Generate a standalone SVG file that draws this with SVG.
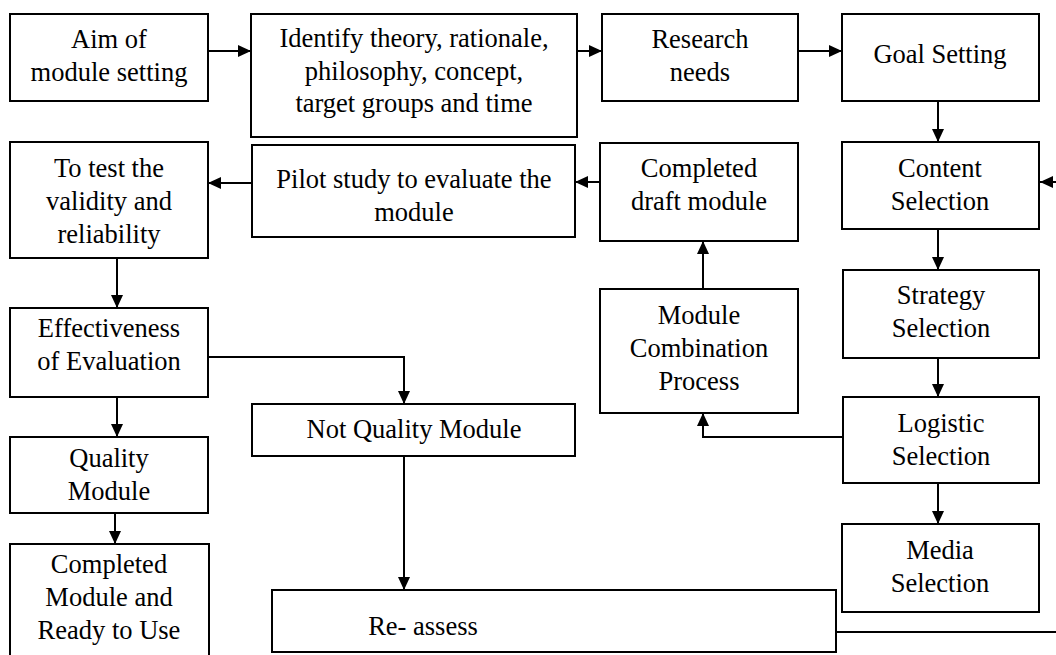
<svg xmlns="http://www.w3.org/2000/svg" width="1056" height="655" viewBox="0 0 1056 655">
<style>
.box{fill:#fff;stroke:#000;stroke-width:2}
.t text{font-family:'Liberation Serif','Times New Roman',Times,serif;font-size:26.5px;fill:#000;text-anchor:middle}
.c{fill:none;stroke:#000;stroke-width:2}
</style>
<defs>
<marker id="ah" viewBox="0 0 13 12" markerUnits="userSpaceOnUse" markerWidth="13" markerHeight="12" refX="13" refY="6" orient="auto">
<path d="M0,0 L13,6 L0,12 z" fill="#000"/>
</marker>
</defs>
<g id="connectors">
<path class="c" d="M208,51 H251" marker-end="url(#ah)"/>
<path class="c" d="M577,51 H602" marker-end="url(#ah)"/>
<path class="c" d="M798,51 H842" marker-end="url(#ah)"/>
<path class="c" d="M938,101 V142" marker-end="url(#ah)"/>
<path class="c" d="M1056,182 H1040" marker-end="url(#ah)"/>
<path class="c" d="M938,229 V270" marker-end="url(#ah)"/>
<path class="c" d="M938,358 V397" marker-end="url(#ah)"/>
<path class="c" d="M938,483 V524" marker-end="url(#ah)"/>
<path class="c" d="M843,437 H703 V413" marker-end="url(#ah)"/>
<path class="c" d="M703,289 V241" marker-end="url(#ah)"/>
<path class="c" d="M600,182 H575" marker-end="url(#ah)"/>
<path class="c" d="M252,183 H208" marker-end="url(#ah)"/>
<path class="c" d="M117,258 V308" marker-end="url(#ah)"/>
<path class="c" d="M117,397 V437" marker-end="url(#ah)"/>
<path class="c" d="M208,357 H404 V404" marker-end="url(#ah)"/>
<path class="c" d="M115,513 V544" marker-end="url(#ah)"/>
<path class="c" d="M404,456 V590" marker-end="url(#ah)"/>
<path class="c" d="M836,632 H1056"/>
</g>
<g class="t" font-family="'Liberation Serif', 'Times New Roman', serif">
<g id="aim"><rect class="box" x="10" y="14" width="198" height="87"/><text x="109" y="48">Aim of</text><text x="109" y="81">module setting</text></g>
<g id="identify"><rect class="box" x="251" y="14" width="326" height="123"/><text x="414" y="47">Identify theory, rationale,</text><text x="414" y="80">philosophy, concept,</text><text x="414" y="112">target groups and time</text></g>
<g id="research"><rect class="box" x="602" y="14" width="196" height="87"/><text x="700" y="48">Research</text><text x="700" y="81">needs</text></g>
<g id="goal"><rect class="box" x="842" y="14" width="197" height="87"/><text x="940" y="63">Goal Setting</text></g>
<g id="content"><rect class="box" x="842" y="142" width="197" height="87"/><text x="940" y="177">Content</text><text x="940" y="210">Selection</text></g>
<g id="strategy"><rect class="box" x="843" y="270" width="196" height="88"/><text x="941" y="304">Strategy</text><text x="941" y="337">Selection</text></g>
<g id="logistic"><rect class="box" x="843" y="397" width="196" height="86"/><text x="941" y="432">Logistic</text><text x="941" y="465">Selection</text></g>
<g id="media"><rect class="box" x="842" y="524" width="197" height="88"/><text x="940" y="559">Media</text><text x="940" y="592">Selection</text></g>
<g id="combination"><rect class="box" x="600" y="289" width="198" height="124"/><text x="699" y="324">Module</text><text x="699" y="357">Combination</text><text x="699" y="390">Process</text></g>
<g id="draft"><rect class="box" x="600" y="143" width="198" height="98"/><text x="699" y="177">Completed</text><text x="699" y="210">draft module</text></g>
<g id="pilot"><rect class="box" x="252" y="145" width="323" height="92"/><text x="414" y="188">Pilot study to evaluate the</text><text x="414" y="221">module</text></g>
<g id="test"><rect class="box" x="10" y="142" width="198" height="116"/><text x="109" y="177">To test the</text><text x="109" y="210">validity and</text><text x="109" y="243">reliability</text></g>
<g id="effectiveness"><rect class="box" x="10" y="308" width="198" height="89"/><text x="109" y="337">Effectiveness</text><text x="109" y="370">of Evaluation</text></g>
<g id="quality"><rect class="box" x="10" y="437" width="198" height="76"/><text x="109" y="467">Quality</text><text x="109" y="500">Module</text></g>
<g id="completed"><rect class="box" x="10" y="544" width="199" height="115"/><text x="109" y="573">Completed</text><text x="109" y="606">Module and</text><text x="109" y="639">Ready to Use</text></g>
<g id="notquality"><rect class="box" x="252" y="404" width="323" height="52"/><text x="414" y="438">Not Quality Module</text></g>
<g id="reassess"><rect class="box" x="272" y="590" width="564" height="62"/><text x="423" y="635">Re- assess</text></g>
</g>
</svg>
